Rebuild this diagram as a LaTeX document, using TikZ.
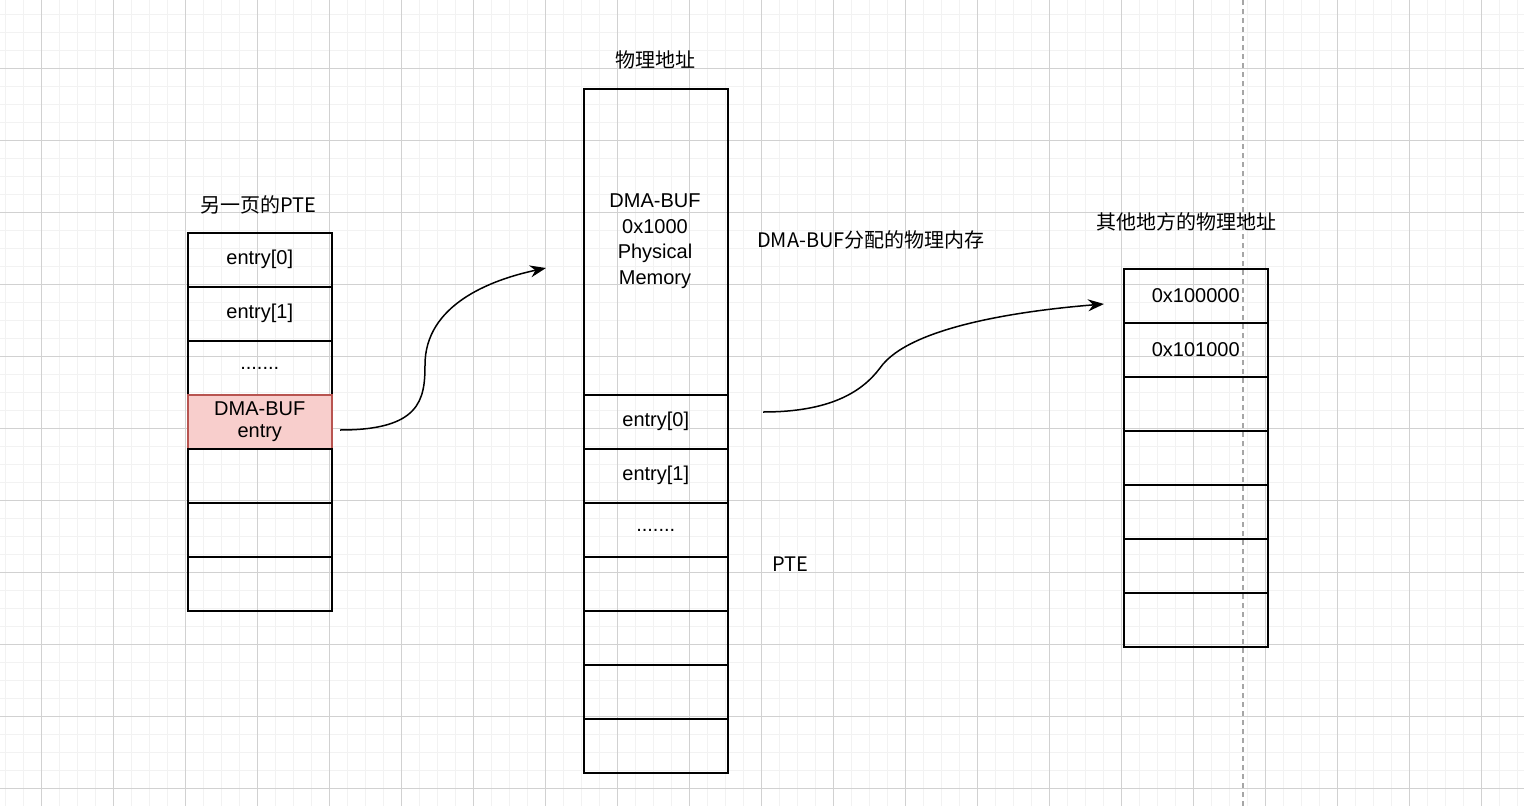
\documentclass[tikz,border=0pt]{standalone}
\usepackage{fontspec}
\setmainfont{Liberation Sans}
\newfontfamily\cjk{Noto Sans CJK SC}
\usetikzlibrary{arrows.meta}
\begin{document}
\begin{tikzpicture}[x=1pt,y=-1pt,
  cell/.style={draw=black,line width=1.5pt,minimum width=144pt,minimum height=54pt,inner sep=0pt,anchor=north west,font=\fontsize{20}{22}\selectfont,align=center},
  lbl/.style={font=\fontsize{20}{22}\selectfont\cjk,inner sep=0pt},
  arr/.style={line width=1.5pt,-{Stealth[length=16pt,width=12pt]}}]
\useasboundingbox (0,0) rectangle (1524,806);
% grid
\foreach \x in {5,23,...,1524} \draw[black!5,line width=1pt] (\x,0) -- (\x,806);
\foreach \y in {14,32,...,806} \draw[black!5,line width=1pt] (0,\y) -- (1524,\y);
\foreach \x in {41,113,...,1524} \draw[black!18,line width=0.8pt] (\x,0) -- (\x,806);
\foreach \y in {68,140,...,806} \draw[black!18,line width=0.8pt] (0,\y) -- (1524,\y);
\draw[black!35,line width=1.2pt,dash pattern=on 5pt off 4pt] (1243,0) -- (1243,806);
% left column
\node[cell] (l0) at (187,232) {entry[0]};
\node[cell] (l1) at (187,286) {entry[1]};
\node[cell] (l2) at (187,340) {\raisebox{-4pt}{.......}};
\node[cell,fill={rgb,255:red,248;green,206;blue,204},draw={rgb,255:red,184;green,84;blue,80}] (l3) at (187,394) {DMA-BUF\\entry};
\node[cell] (l4) at (187,448) {};
\node[cell] (l5) at (187,502) {};
\node[cell] (l6) at (187,556) {};
% middle
\node[cell,minimum height=306pt] (m) at (583,88) {};
\node[align=center,font=\fontsize{20}{25.5}\selectfont] (mt) at (655,241) {DMA-BUF\\0x1000\\Physical\\Memory};
\node[cell] (m0) at (583,394) {entry[0]};
\node[cell] (m1) at (583,448) {entry[1]};
\node[cell] (m2) at (583,502) {\raisebox{-4pt}{.......}};
\node[cell] (m3) at (583,556) {};
\node[cell] (m4) at (583,610) {};
\node[cell] (m5) at (583,664) {};
\node[cell] (m6) at (583,718) {};
% right
\node[cell] (r0) at (1123,268) {0x100000};
\node[cell] (r1) at (1123,322) {0x101000};
\node[cell] (r2) at (1123,376) {};
\node[cell] (r3) at (1123,430) {};
\node[cell] (r4) at (1123,484) {};
\node[cell] (r5) at (1123,538) {};
\node[cell] (r6) at (1123,592) {};
% labels
\node[lbl] (t1) at (258,205) {另一页的PTE};
\node[lbl] (t2) at (655,60) {物理地址};
\node[lbl] (t3) at (871,240) {DMA-BUF分配的物理内存};
\node[lbl] (t4) at (1186,222) {其他地方的物理地址};
\node[lbl] (t5) at (790,564) {PTE};
% arrows
\coordinate (a1) at (340,430);
\coordinate (b1) at (546,268);
\coordinate (a2) at (763,412);
\coordinate (b2) at (1104,304);
\draw[arr] (a1) .. controls (420,430) and (425,400) .. (425,365) .. controls (425,305) and (490,280) .. (b1);
\draw[arr] (a2) .. controls (830,412) and (862,392) .. (880,368) .. controls (910,325) and (1030,310) .. (b2);
\end{tikzpicture}
\end{document}
